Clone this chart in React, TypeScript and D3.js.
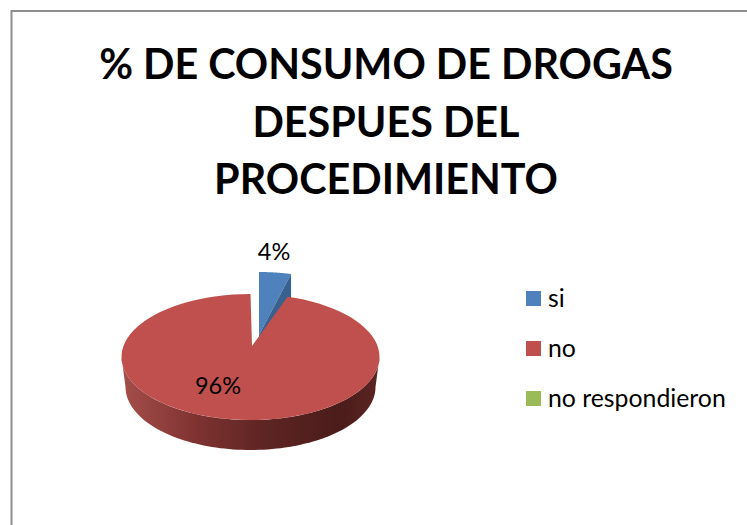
import React from 'react';
import * as d3 from 'd3';

const categories = ['si', 'no', 'no respondieron'];
const values = [4, 96, 0];
const percentLabels = ['4%', '96%', ''];
const colors = ['#4f81bd', '#c0504d', '#9bbb59'];
const titleLines = ['% DE CONSUMO DE DROGAS', 'DESPUES DEL', 'PROCEDIMIENTO'];

const FONT = 'Lato, "Open Sans", sans-serif';

const cx = 250.5;
const cy = 357;
const rx = 129;
const ry = 63;
const depth = 30;

// the reference pie is in perspective: red apex sits above the ellipse centre
const apex = { x: 252, y: 346 };
const blueCentre = { x: 259, y: 335 };
const redGap = 0.04;

const ellipsePoint = (a: number, ox: number, oy: number, rxx = rx, ryy = ry): [number, number] => [
  ox + rxx * Math.sin(a),
  oy - ryy * Math.cos(a),
];

const arcPoints = (a0: number, a1: number, ox: number, oy: number, rxx = rx, ryy = ry) =>
  d3.range(0, 1.0001, 1 / 90).map(t => ellipsePoint(a0 + (a1 - a0) * t, ox, oy, rxx, ryy));

const line = d3.line();

export default function App() {
  const arcs = d3.pie<number>().sort(null)(values);
  const blue = arcs[0];
  const red = arcs[1];

  const redTop = [
    [apex.x, apex.y] as [number, number],
    ...arcPoints(red.startAngle + redGap, red.endAngle, cx, cy),
  ];
  const blueTop = [
    [blueCentre.x, blueCentre.y] as [number, number],
    ...arcPoints(blue.startAngle, blue.endAngle, blueCentre.x, blueCentre.y),
  ];
  const blueEdge = ellipsePoint(blue.endAngle, blueCentre.x, blueCentre.y);
  const blueWall: [number, number][] = [
    [blueCentre.x, blueCentre.y],
    blueEdge,
    [blueEdge[0], blueEdge[1] + depth],
    [blueCentre.x, blueCentre.y + depth],
  ];

  // visible side of the pie: front half of the ellipse, top and bottom rim
  const wall = [
    ...arcPoints(Math.PI / 2, (3 * Math.PI) / 2, cx, cy),
    ...arcPoints((3 * Math.PI) / 2, Math.PI / 2, cx, cy + depth, rx - 4, ry),
  ];

  const legendY = d3.scalePoint<string>().domain(categories).range([299, 399]);

  return (
    <svg width={747} height={525} style={{ position: 'absolute', left: 0, top: 0, background: '#fff' }} fontFamily={FONT}>
      <defs>
        <linearGradient id="wallFill" x1="0" x2="1" y1="0" y2="0">
          <stop offset="0" stopColor="#a54e4b" />
          <stop offset="0.3" stopColor="#7d3230" />
          <stop offset="0.55" stopColor="#5e2523" />
          <stop offset="0.85" stopColor="#4a1c1a" />
          <stop offset="1" stopColor="#5c2522" />
        </linearGradient>
      </defs>

      <path d="M747,11 H11.5 V525" fill="none" stroke="#8e8e8e" strokeWidth={2} />

      {titleLines.map((t, i) => (
        <text key={t} x={386} y={79 + i * 57.5} textAnchor="middle" fontSize={41.3} fontWeight={700} fill="#000">
          {t}
        </text>
      ))}

      <path d={line(blueTop) + 'Z'} fill={colors[0]} />
      <path d={line(blueWall) + 'Z'} fill="#38618f" />
      <path d={line(wall) + 'Z'} fill="url(#wallFill)" />
      <path d={line(redTop) + 'Z'} fill={colors[1]} />

      <text x={274} y={260} textAnchor="middle" fontSize={23.5} fill="#000">{percentLabels[0]}</text>
      <text x={218} y={394} textAnchor="middle" fontSize={23.5} fill="#000">{percentLabels[1]}</text>

      {categories.map((c, i) => (
        <g key={c}>
          <rect x={526} y={legendY(c)! - 8} width={15} height={15} fill={colors[i]} />
          <text x={548} y={legendY(c)! + 8} fontSize={24.8} fill="#000">{c}</text>
        </g>
      ))}
    </svg>
  );
}
